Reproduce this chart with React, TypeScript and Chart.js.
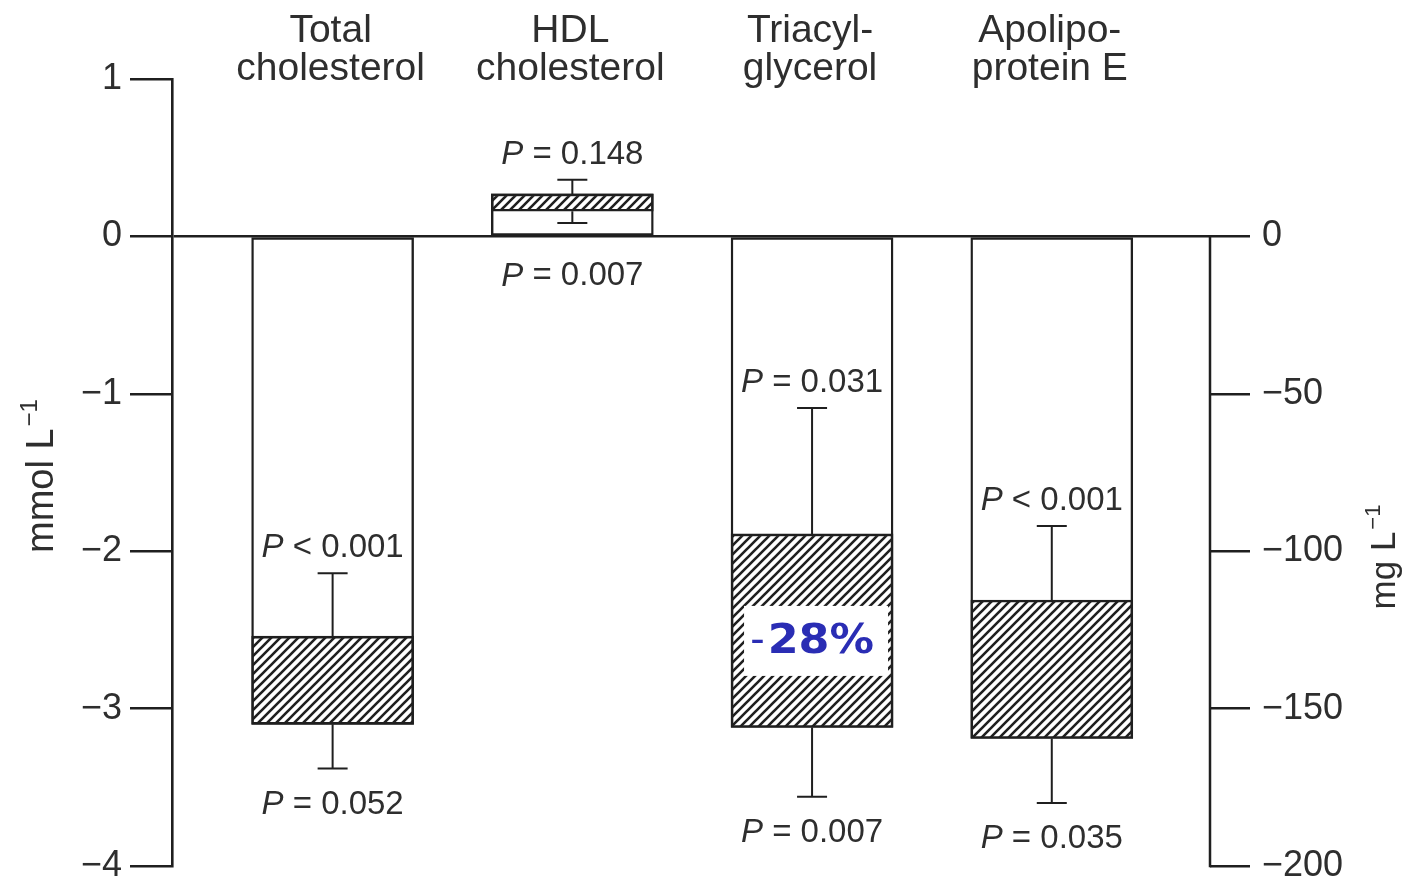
import { useEffect, useRef } from "react";
import { Chart, registerables } from "chart.js";

Chart.register(...registerables);

// ---- data ----
const categories = ["Total cholesterol", "HDL cholesterol", "Triacylglycerol", "Apolipoprotein E"];
const categoryLines = [
  ["Total", "cholesterol"],
  ["HDL", "cholesterol"],
  ["Triacyl-", "glycerol"],
  ["Apolipo-", "protein E"],
];
const barEnd = [-3.1, 0.27, -3.12, -3.19];
const hatchStart = [-2.54, 0.16, -1.89, -2.31];
const errUpper = [-2.14, 0.36, -1.09, -1.84];
const errLower = [-3.38, 0.085, -3.56, -3.6];
const pUpper = ["P < 0.001", "P = 0.148", "P = 0.031", "P < 0.001"];
const pLower = ["P = 0.052", "P = 0.007", "P = 0.007", "P = 0.035"];
const leftTicks = [1, 0, -1, -2, -3, -4];
const rightTicks = [0, -50, -100, -150, -200];
const leftTitle = ["mmol L", "−1"];
const rightTitle = ["mg L", "−1"];
const noteText = ["-", "28%"];
const noteIndex = 2;
const noteValue = -2.57;

// ---- styles ----
const INK = "#1f1f1f";
const TEXT = "#2e2e2e";
const FONT = "'Liberation Sans', Arial, sans-serif";
const BLUE = "#2a2db4";

function fmt(v: number) {
  return v < 0 ? "−" + Math.abs(v) : String(v);
}

function makeHatch(ctx0: CanvasRenderingContext2D) {
  const s = 9;
  const c = document.createElement("canvas");
  c.width = s;
  c.height = s;
  const g = c.getContext("2d")!;
  g.fillStyle = "#fff";
  g.fillRect(0, 0, s, s);
  g.strokeStyle = INK;
  g.lineWidth = 2.6;
  g.beginPath();
  g.moveTo(0, s);
  g.lineTo(s, 0);
  g.moveTo(-s / 2, s / 2);
  g.lineTo(s / 2, -s / 2);
  g.moveTo(s / 2, s * 1.5);
  g.lineTo(s * 1.5, s / 2);
  g.stroke();
  return ctx0.createPattern(c, "repeat")!;
}

function drawPLabel(ctx: CanvasRenderingContext2D, text: string, cx: number, cy: number) {
  const first = text.slice(0, 1);
  const rest = text.slice(1);
  ctx.font = `italic 33px ${FONT}`;
  const w1 = ctx.measureText(first).width;
  ctx.font = `33px ${FONT}`;
  const w2 = ctx.measureText(rest).width;
  const x0 = cx - (w1 + w2) / 2;
  ctx.textAlign = "left";
  ctx.textBaseline = "middle";
  ctx.fillStyle = TEXT;
  ctx.font = `italic 33px ${FONT}`;
  ctx.fillText(first, x0, cy);
  ctx.font = `33px ${FONT}`;
  ctx.fillText(rest, x0 + w1, cy);
}

function drawRotTitle(
  ctx: CanvasRenderingContext2D,
  parts: string[],
  bx: number,
  cy: number,
  size: number
) {
  const sup = Math.round(size * 0.62);
  ctx.save();
  ctx.translate(bx, cy);
  ctx.rotate(-Math.PI / 2);
  ctx.font = `${size}px ${FONT}`;
  const w1 = ctx.measureText(parts[0]).width;
  ctx.font = `${sup}px ${FONT}`;
  const w2 = ctx.measureText(parts[1]).width;
  const x0 = -(w1 + w2 + 2) / 2;
  ctx.fillStyle = TEXT;
  ctx.textAlign = "left";
  ctx.textBaseline = "alphabetic";
  ctx.font = `${size}px ${FONT}`;
  ctx.fillText(parts[0], x0, 0);
  ctx.font = `${sup}px ${FONT}`;
  ctx.fillText(parts[1], x0 + w1 + 2, -size * 0.42);
  ctx.restore();
}

const overlay = {
  id: "overlay",
  afterDatasetsDraw(chart: any) {
    const ctx: CanvasRenderingContext2D = chart.ctx;
    const xs = chart.scales.x;
    const ys = chart.scales.y;
    const y2 = chart.scales.y2;
    const area = chart.chartArea;
    ctx.save();

    // right axis line (0 to -200 only)
    ctx.strokeStyle = INK;
    ctx.lineWidth = 2.5;
    ctx.lineCap = "square";
    ctx.beginPath();
    ctx.moveTo(y2.left, y2.getPixelForValue(rightTicks[0]));
    ctx.lineTo(y2.left, y2.getPixelForValue(rightTicks[rightTicks.length - 1]));
    ctx.stroke();

    // error bars
    ctx.lineCap = "butt";
    ctx.lineWidth = 2;
    categories.forEach((_, i) => {
      const cx = xs.getPixelForValue(i);
      const hi = Math.max(hatchStart[i], barEnd[i]);
      const lo = Math.min(hatchStart[i], barEnd[i]);
      const pHi = ys.getPixelForValue(hi);
      const pLo = ys.getPixelForValue(lo);
      const pU = ys.getPixelForValue(errUpper[i]);
      const pL = ys.getPixelForValue(errLower[i]);
      ctx.beginPath();
      ctx.moveTo(cx, pHi);
      ctx.lineTo(cx, pU);
      ctx.moveTo(cx - 15, pU);
      ctx.lineTo(cx + 15, pU);
      ctx.moveTo(cx, pLo);
      ctx.lineTo(cx, pL);
      ctx.moveTo(cx - 15, pL);
      ctx.lineTo(cx + 15, pL);
      ctx.stroke();

      drawPLabel(ctx, pUpper[i], cx, pU - 25);
      const lowAnchor = Math.max(pL, ys.getPixelForValue(0) + 4);
      drawPLabel(ctx, pLower[i], cx, lowAnchor + 36);
    });

    // category titles
    ctx.fillStyle = TEXT;
    ctx.textAlign = "center";
    ctx.textBaseline = "alphabetic";
    ctx.font = `39px ${FONT}`;
    categoryLines.forEach((lines, i) => {
      const cx = xs.getPixelForValue(i) - 2;
      ctx.fillText(lines[0], cx, area.top - 37);
      ctx.fillText(lines[1], cx, area.top + 1);
    });

    // annotation box
    {
      const cx = xs.getPixelForValue(noteIndex) + 4;
      const cy = ys.getPixelForValue(noteValue);
      ctx.fillStyle = "#ffffff";
      ctx.fillRect(cx - 72, cy - 35, 144, 70);
      ctx.font = `40px 'DejaVu Sans', sans-serif`;
      const wh = ctx.measureText(noteText[0]).width;
      ctx.font = `bold 40px 'DejaVu Sans', sans-serif`;
      const wb = ctx.measureText(noteText[1]).width * 1.11;
      const x0 = cx - 4 - (wh + 3 + wb) / 2;
      ctx.fillStyle = BLUE;
      ctx.textAlign = "left";
      ctx.textBaseline = "middle";
      ctx.font = `40px 'DejaVu Sans', sans-serif`;
      ctx.fillText(noteText[0], x0, cy + 2);
      ctx.save();
      ctx.translate(x0 + wh + 3, cy + 2);
      ctx.scale(1.11, 1);
      ctx.font = `bold 40px 'DejaVu Sans', sans-serif`;
      ctx.fillText(noteText[1], 0, 0);
      ctx.restore();
    }

    // axis titles
    drawRotTitle(ctx, leftTitle, area.left - 119, 476, 38);
    drawRotTitle(ctx, rightTitle, area.right + 185, 557, 35);

    ctx.restore();
  },
};

export default function App() {
  const ref = useRef<HTMLCanvasElement>(null);

  useEffect(() => {
    const canvas = ref.current!;
    const ctx = canvas.getContext("2d")!;
    const hatch = makeHatch(ctx);

    const chart = new Chart(canvas, {
      type: "bar",
      data: {
        datasets: [
          {
            label: "hatched",
            data: categories.map((_, i) => ({ x: i, y: [hatchStart[i], barEnd[i]] })) as any,
            backgroundColor: hatch as any,
            borderColor: INK,
            borderWidth: 2.6,
            borderSkipped: false,
            barThickness: 162,
            grouped: false,
            order: 0,
          } as any,
          {
            label: "change",
            data: categories.map((_, i) => ({ x: i, y: [0, barEnd[i]] })) as any,
            backgroundColor: "#ffffff",
            borderColor: INK,
            borderWidth: 2.4,
            borderSkipped: false,
            barThickness: 162,
            grouped: false,
            order: 1,
          } as any,
        ],
      },
      options: {
        responsive: false,
        animation: false,
        events: [],
        layout: { padding: { top: 79, bottom: 14, left: 0, right: 0 } },
        plugins: { legend: { display: false }, tooltip: { enabled: false } },
        scales: {
          x: {
            type: "linear",
            offset: false,
            min: -0.67,
            max: 3.66,
            display: false,
          },
          y: {
            position: "left",
            min: leftTicks[leftTicks.length - 1],
            max: leftTicks[0],
            afterBuildTicks: (s: any) => {
              s.ticks = leftTicks.map((v) => ({ value: v }));
            },
            afterFit: (s: any) => {
              s.width = 172;
              s.paddingTop = 0;
              s.paddingBottom = 0;
            },
            ticks: {
              callback: (v: any) => fmt(Number(v)),
              font: { family: FONT, size: 36 },
              color: TEXT,
              padding: 8,
            },
            grid: {
              color: (c: any) => (c.tick && c.tick.value === 0 ? INK : "rgba(0,0,0,0)"),
              lineWidth: 2.4,
              tickLength: 42,
              tickColor: INK,
              tickWidth: 2.4,
            },
            border: { display: true, color: INK, width: 2.6 },
          },
          y2: {
            position: "right",
            min: rightTicks[rightTicks.length - 1],
            max: 50,
            afterBuildTicks: (s: any) => {
              s.ticks = rightTicks.map((v) => ({ value: v }));
            },
            afterFit: (s: any) => {
              s.width = 197;
              s.paddingTop = 0;
              s.paddingBottom = 0;
            },
            ticks: {
              callback: (v: any) => fmt(Number(v)),
              font: { family: FONT, size: 36 },
              color: TEXT,
              padding: 12,
            },
            grid: {
              drawOnChartArea: false,
              color: INK,
              lineWidth: 2.4,
              tickLength: 40,
              tickColor: INK,
              tickWidth: 2.4,
            },
            border: { display: false },
          },
        } as any,
      },
      plugins: [overlay],
    });

    return () => chart.destroy();
  }, []);

  return (
    <div style={{ position: "absolute", left: 0, top: 0, width: 1407, height: 880, background: "#fff" }}>
      <canvas ref={ref} width={1407} height={880} style={{ display: "block" }} />
    </div>
  );
}
